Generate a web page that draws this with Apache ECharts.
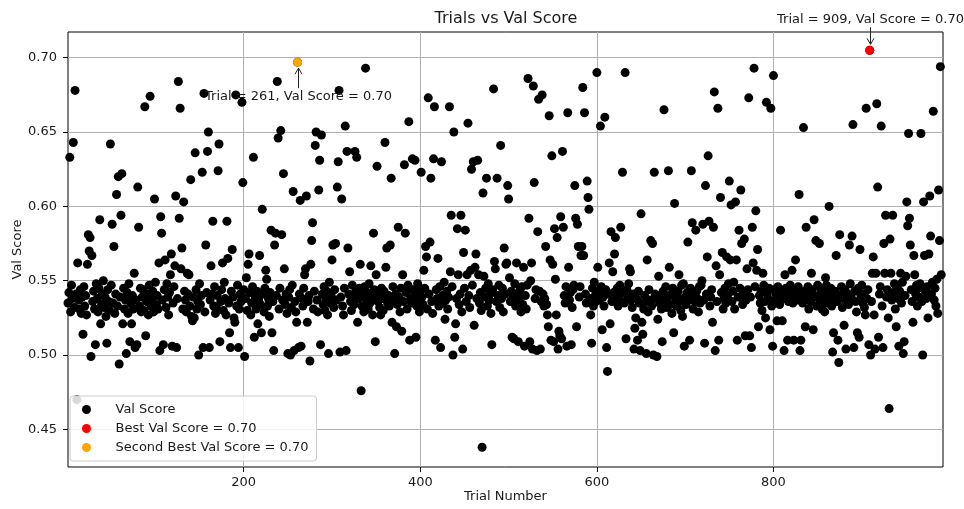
<!DOCTYPE html>
<html><head><meta charset="utf-8">
<script src="https://cdn.jsdelivr.net/npm/echarts@6/dist/echarts.min.js"></script>
<style>html,body{margin:0;padding:0;background:#fff}#c{width:964px;height:509px}</style>
</head><body><div id="c"></div>
<script>
// Val score of each trial (trial n = index n-1)
const scores = [
0.535,0.542,0.633,0.529,0.547,0.538,0.643,0.532,0.678,0.541,
0.470,0.562,0.537,0.531,0.544,0.528,0.539,0.514,0.546,0.533,
0.540,0.527,0.561,0.581,0.570,0.579,0.499,0.567,0.536,0.543,
0.531,0.507,0.548,0.538,0.529,0.545,0.591,0.521,0.534,0.541,
0.550,0.532,0.539,0.526,0.508,0.544,0.536,0.530,0.642,0.547,
0.588,0.535,0.573,0.528,0.541,0.608,0.533,0.620,0.494,0.539,
0.594,0.622,0.521,0.545,0.531,0.537,0.501,0.542,0.528,0.548,
0.509,0.535,0.521,0.540,0.531,0.555,0.505,0.537,0.507,0.613,
0.586,0.533,0.545,0.529,0.539,0.544,0.530,0.667,0.513,0.536,
0.541,0.527,0.547,0.674,0.533,0.538,0.543,0.529,0.605,0.549,
0.534,0.540,0.531,0.562,0.503,0.593,0.582,0.537,0.507,0.544,
0.564,0.532,0.548,0.539,0.527,0.542,0.554,0.568,0.506,0.535,
0.546,0.560,0.607,0.505,0.538,0.684,0.592,0.666,0.558,0.572,
0.531,0.603,0.543,0.537,0.529,0.555,0.541,0.554,0.533,0.618,
0.526,0.523,0.539,0.525,0.636,0.544,0.531,0.536,0.500,0.548,
0.534,0.540,0.623,0.505,0.676,0.529,0.574,0.542,0.637,0.650,
0.505,0.537,0.560,0.541,0.590,0.533,0.546,0.528,0.532,0.540,
0.624,0.642,0.509,0.536,0.544,0.562,0.530,0.549,0.538,0.527,
0.590,0.565,0.535,0.515,0.505,0.543,0.571,0.539,0.525,0.522,
0.675,0.533,0.547,0.505,0.531,0.541,0.536,0.670,0.616,0.544,
0.499,0.538,0.552,0.530,0.561,0.568,0.542,0.527,0.535,0.546,
0.633,0.512,0.539,0.531,0.543,0.521,0.537,0.567,0.534,0.515,
0.598,0.541,0.529,0.545,0.557,0.551,0.533,0.538,0.526,0.542,
0.584,0.515,0.536,0.503,0.574,0.582,0.540,0.684,0.646,0.531,
0.545,0.651,0.581,0.537,0.622,0.558,0.534,0.541,0.528,0.501,
0.539,0.544,0.500,0.532,0.547,0.610,0.503,0.536,0.529,0.522,
0.697,0.505,0.541,0.604,0.506,0.538,0.533,0.545,0.554,0.558,
0.607,0.522,0.536,0.540,0.496,0.561,0.577,0.589,0.531,0.543,
0.641,0.650,0.537,0.529,0.611,0.631,0.507,0.648,0.541,0.534,
0.546,0.530,0.538,0.543,0.527,0.501,0.549,0.535,0.540,0.564,
0.574,0.532,0.544,0.575,0.537,0.613,0.630,0.678,0.502,0.539,
0.605,0.533,0.527,0.545,0.654,0.503,0.637,0.572,0.541,0.556,
0.536,0.530,0.547,0.539,0.534,0.637,0.543,0.633,0.522,0.538,
0.545,0.561,0.476,0.533,0.540,0.529,0.546,0.693,0.537,0.542,
0.531,0.548,0.535,0.560,0.539,0.527,0.582,0.544,0.509,0.554,
0.627,0.536,0.541,0.532,0.527,0.545,0.538,0.530,0.543,0.643,
0.559,0.572,0.535,0.540,0.533,0.574,0.619,0.522,0.546,0.537,
0.501,0.541,0.519,0.534,0.586,0.539,0.529,0.545,0.516,0.554,
0.536,0.628,0.582,0.542,0.531,0.547,0.657,0.510,0.538,0.535,
0.632,0.544,0.540,0.631,0.512,0.533,0.548,0.537,0.529,0.543,
0.623,0.539,0.534,0.557,0.545,0.573,0.566,0.531,0.673,0.541,
0.576,0.619,0.536,0.528,0.632,0.667,0.510,0.544,0.538,0.565,
0.533,0.546,0.505,0.630,0.540,0.535,0.549,0.524,0.537,0.543,
0.531,0.539,0.667,0.556,0.594,0.546,0.500,0.650,0.512,0.521,
0.538,0.585,0.554,0.534,0.541,0.594,0.529,0.504,0.569,0.545,
0.584,0.536,0.554,0.656,0.540,0.532,0.557,0.625,0.547,0.630,
0.520,0.559,0.568,0.538,0.631,0.554,0.535,0.542,0.530,0.438,
0.609,0.553,0.539,0.545,0.619,0.533,0.548,0.537,0.541,0.528,
0.507,0.544,0.679,0.563,0.558,0.536,0.619,0.540,0.547,0.532,
0.641,0.538,0.545,0.529,0.572,0.541,0.561,0.562,0.614,0.605,
0.552,0.536,0.543,0.512,0.539,0.511,0.548,0.533,0.562,0.541,
0.509,0.537,0.544,0.529,0.546,0.534,0.559,0.506,0.540,0.531,
0.547,0.686,0.592,0.509,0.550,0.562,0.504,0.681,0.616,0.538,
0.544,0.503,0.583,0.672,0.543,0.504,0.536,0.675,0.541,0.533,
0.538,0.573,0.534,0.527,0.519,0.661,0.564,0.510,0.634,0.561,
0.509,0.585,0.551,0.527,0.579,0.504,0.516,0.513,0.593,0.511,
0.637,0.586,0.540,0.535,0.546,0.506,0.663,0.559,0.537,0.542,
0.507,0.532,0.544,0.547,0.614,0.592,0.519,0.588,0.573,0.539,
0.546,0.567,0.573,0.680,0.567,0.663,0.541,0.535,0.617,0.606,
0.598,0.538,0.527,0.508,0.545,0.533,0.549,0.540,0.536,0.690,
0.559,0.543,0.537,0.654,0.546,0.517,0.539,0.533,0.660,0.544,
0.505,0.489,0.541,0.562,0.521,0.583,0.536,0.556,0.542,0.568,
0.579,0.538,0.545,0.533,0.540,0.547,0.586,0.536,0.623,0.542,
0.535,0.690,0.511,0.544,0.539,0.548,0.558,0.556,0.537,0.532,
0.541,0.504,0.518,0.525,0.538,0.510,0.543,0.535,0.503,0.595,
0.522,0.514,0.531,0.540,0.536,0.501,0.564,0.529,0.544,0.537,
0.577,0.533,0.575,0.500,0.623,0.541,0.538,0.499,0.524,0.553,
0.535,0.540,0.531,0.509,0.543,0.665,0.537,0.546,0.532,0.539,
0.624,0.559,0.534,0.541,0.528,0.545,0.515,0.602,0.538,0.533,
0.540,0.543,0.554,0.536,0.530,0.547,0.526,0.548,0.506,0.539,
0.534,0.542,0.576,0.537,0.510,0.545,0.624,0.589,0.531,0.540,
0.536,0.584,0.543,0.538,0.529,0.546,0.535,0.547,0.550,0.588,
0.537,0.508,0.614,0.541,0.566,0.634,0.590,0.533,0.539,0.544,
0.522,0.586,0.677,0.503,0.560,0.536,0.666,0.510,0.554,0.606,
0.542,0.569,0.531,0.538,0.545,0.535,0.566,0.540,0.548,0.617,
0.564,0.601,0.536,0.543,0.549,0.531,0.603,0.564,0.510,0.539,
0.584,0.545,0.611,0.575,0.534,0.541,0.578,0.513,0.537,0.558,
0.544,0.673,0.513,0.539,0.505,0.586,0.562,0.693,0.546,0.597,
0.557,0.571,0.519,0.540,0.535,0.543,0.530,0.555,0.547,0.536,
0.525,0.670,0.541,0.538,0.545,0.517,0.666,0.533,0.506,0.688,
0.544,0.537,0.541,0.523,0.546,0.539,0.534,0.584,0.542,0.523,
0.538,0.503,0.554,0.545,0.540,0.510,0.536,0.543,0.547,0.539,
0.557,0.535,0.510,0.541,0.564,0.544,0.537,0.546,0.608,0.503,
0.510,0.540,0.535,0.653,0.543,0.519,0.586,0.538,0.546,0.531,
0.541,0.536,0.555,0.544,0.517,0.591,0.539,0.577,0.533,0.547,
0.540,0.575,0.536,0.544,0.531,0.538,0.542,0.529,0.552,0.547,
0.535,0.541,0.600,0.537,0.545,0.533,0.502,0.515,0.539,0.543,
0.567,0.536,0.510,0.495,0.581,0.540,0.546,0.532,0.538,0.520,
0.544,0.504,0.537,0.541,0.534,0.574,0.548,0.539,0.580,0.655,
0.505,0.543,0.536,0.529,0.515,0.545,0.512,0.571,0.540,0.547,
0.535,0.541,0.532,0.527,0.666,0.538,0.544,0.507,0.705,0.500,
0.536,0.555,0.566,0.527,0.504,0.555,0.669,0.613,0.512,0.541,
0.546,0.654,0.533,0.505,0.575,0.555,0.594,0.539,0.544,0.525,
0.464,0.578,0.555,0.537,0.594,0.542,0.548,0.531,0.519,0.546,
0.538,0.506,0.543,0.555,0.535,0.549,0.501,0.509,0.540,0.553,
0.603,0.587,0.649,0.592,0.574,0.544,0.536,0.522,0.567,0.554,
0.541,0.547,0.533,0.545,0.539,0.548,0.649,0.536,0.500,0.603,
0.567,0.543,0.538,0.546,0.525,0.568,0.607,0.580,0.541,0.549,
0.664,0.537,0.545,0.533,0.551,0.528,0.611,0.577,0.694,0.554
];
const trials = scores.map((_, i) => i + 1);
const bestTrial = 909;
const secondTrial = 261;
const xTickValues = [200, 400, 600, 800];
const yTickValues = [0.45, 0.50, 0.55, 0.60, 0.65, 0.70];

const bestScore = scores[bestTrial - 1];
const secondScore = scores[secondTrial - 1];
const FONT = 'DejaVu Sans';
const TXT = '#1a1a1a';

const chart = echarts.init(document.getElementById('c'), null, {renderer: 'canvas'});
const option = {
  animation: false,
  backgroundColor: '#fff',
  title: {text: 'Trials vs Val Score', left: 501, textAlign: 'center', top: 6,
    textStyle: {fontFamily: FONT, fontSize: 16, fontWeight: 'normal', color: TXT}},
  grid: {left: 68, right: 21, top: 32, bottom: 42, outerBoundsMode: 'none', containLabel: false,
    show: true, borderColor: '#000', borderWidth: 1, backgroundColor: 'transparent'},
  xAxis: {
    type: 'value', min: 1, max: 992,
    name: 'Trial Number', nameLocation: 'middle', nameGap: 23, nameMoveOverlap: false,
    nameTextStyle: {fontFamily: FONT, fontSize: 13, color: TXT},
    axisLine: {show: false},
    axisTick: {show: true, length: 5, lineStyle: {color: '#000'}, customValues: xTickValues},
    axisLabel: {fontFamily: FONT, fontSize: 13, color: TXT, margin: 9, customValues: xTickValues},
    splitLine: {show: true, lineStyle: {color: '#b0b0b0', width: 1}}
  },
  yAxis: {
    type: 'value', min: 0.4247, max: 0.7173,
    name: 'Val Score', nameLocation: 'middle', nameGap: 44, nameMoveOverlap: false,
    nameTextStyle: {fontFamily: FONT, fontSize: 13, color: TXT},
    axisLine: {show: false},
    axisTick: {show: true, length: 5, lineStyle: {color: '#000'}, customValues: yTickValues},
    axisLabel: {fontFamily: FONT, fontSize: 13, color: TXT, margin: 11, customValues: yTickValues,
      formatter: v => v.toFixed(2)},
    splitLine: {show: true, lineStyle: {color: '#b0b0b0', width: 1}}
  },
  legend: {
    orient: 'vertical', left: 70, top: 396,
    icon: 'circle', itemWidth: 20, itemHeight: 9, itemGap: 6,
    padding: [7, 8, 7, 12],
    backgroundColor: 'rgba(255,255,255,0.85)', borderColor: '#cccccc', borderWidth: 1, borderRadius: 3,
    textStyle: {fontFamily: FONT, fontSize: 13, color: TXT, padding: [0, 0, 0, 14]},
    data: ['Val Score', 'Best Val Score = ' + bestScore.toFixed(2), 'Second Best Val Score = ' + secondScore.toFixed(2)]
  },
  series: [
    {name: 'Val Score', type: 'scatter', symbolSize: 9, itemStyle: {color: '#000', opacity: 1},
     data: trials.map((t, i) => [t, scores[i]]), z: 2},
    {name: 'Best Val Score = ' + bestScore.toFixed(2), type: 'scatter', symbolSize: 9, itemStyle: {color: '#ff0000', opacity: 1},
     data: [[bestTrial, bestScore]], z: 3},
    {name: 'Second Best Val Score = ' + secondScore.toFixed(2), type: 'scatter', symbolSize: 9, itemStyle: {color: '#ffa500', opacity: 1},
     data: [[secondTrial, secondScore]], z: 3}
  ]
};
chart.setOption(option);

function annot(trial, score, dir) {
  const p = chart.convertToPixel({gridIndex: 0}, [trial, score]);
  const x = Math.round(p[0]) + 0.5, y = p[1];
  const label = 'Trial = ' + trial + ', Val Score = ' + score.toFixed(2);
  const s = dir < 0 ? -1 : 1; // -1 text above, +1 text below
  const tip = y + s * 6, tail = y + s * (dir < 0 ? 23 : 26);
  return [
    {type: 'text', z: 10, style: {text: label, x: x, y: dir < 0 ? y - 24 : y + 28,
      textAlign: 'center', textVerticalAlign: dir < 0 ? 'bottom' : 'top',
      font: '13px "' + FONT + '"', fill: TXT}},
    {type: 'line', z: 10, shape: {x1: x, y1: tail, x2: x, y2: tip}, style: {stroke: '#222', lineWidth: 1}},
    {type: 'polyline', z: 10, shape: {points: [[x - 3.5, tip + s * 6], [x, tip], [x + 3.5, tip + s * 6]]},
     style: {stroke: '#222', lineWidth: 1, fill: null}}
  ];
}
chart.setOption({graphic: annot(bestTrial, bestScore, -1).concat(annot(secondTrial, secondScore, 1))});
</script></body></html>
